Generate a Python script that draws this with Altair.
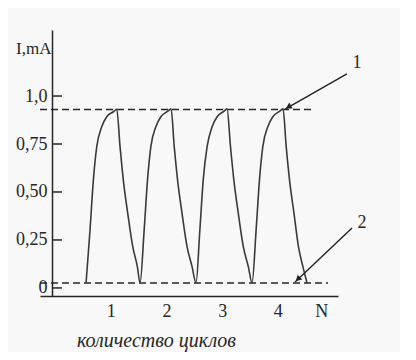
import altair as alt
import pandas as pd

# ---- data ----
cycle_x = [
    0.557, 0.628, 0.688, 0.749, 0.838, 0.928, 1.047, 1.108, 1.167, 1.226, 1.305, 1.395, 1.478,
    1.526, 1.600, 1.660, 1.720, 1.810, 1.900, 2.020, 2.083, 2.140, 2.200, 2.280, 2.370, 2.460,
    2.531, 2.600, 2.660, 2.730, 2.820, 2.910, 3.030, 3.088, 3.150, 3.210, 3.290, 3.380, 3.470,
    3.537, 3.610, 3.670, 3.730, 3.820, 3.910, 4.030, 4.093, 4.150, 4.210, 4.290, 4.370, 4.450,
    4.524,
]
cycle_y = [
    0.026, 0.302, 0.562, 0.736, 0.840, 0.892, 0.918, 0.931, 0.736, 0.562, 0.389, 0.215, 0.111,
    0.026, 0.302, 0.562, 0.736, 0.840, 0.892, 0.920, 0.933, 0.736, 0.562, 0.389, 0.215, 0.111,
    0.026, 0.302, 0.562, 0.736, 0.840, 0.892, 0.920, 0.933, 0.736, 0.562, 0.389, 0.215, 0.111,
    0.026, 0.302, 0.562, 0.736, 0.840, 0.892, 0.920, 0.933, 0.736, 0.562, 0.389, 0.215, 0.111,
    0.026,
]

level_names = ["1", "2"]
level_values = [0.930, 0.026]
level_x_start = [-0.27, -0.27]
level_x_end = [4.614, 4.90]

arrow_x_start = [5.24, 5.332]
arrow_y_start = [1.115, 0.3125]
arrow_x_end = [4.13, 4.309]
arrow_y_end = [0.932, 0.031]
arrow_head_x = [4.19, 4.36]
arrow_head_y = [0.943, 0.046]
arrow_head_angle = [240.6, 226.5]
note_x = [5.42, 5.51]
note_y = [1.17, 0.339]

y_tick_values = [0, 0.25, 0.5, 0.75, 1.0]
y_tick_labels = ["0", "0,25", "0,50", "0,75", "1,0"]
x_tick_values = [1, 2, 3, 4, 4.78]
x_tick_labels = ["1", "2", "3", "4", "N"]

y_title = "I,mA"
x_title = "количество циклов"

# ---- chart ----
FONT = "Liberation Serif"
INK = "#262626"

def label_expr(values, labels):
    expr = "''"
    for v, l in reversed(list(zip(values, labels))):
        expr = f"abs(datum.value - {v}) < 0.001 ? '{l}' : ({expr})"
    return expr

xs = alt.Scale(domain=[-0.27, 5.08], nice=False, zero=False)
ys = alt.Scale(domain=[-0.042, 1.344], nice=False, zero=False)

curve_df = pd.DataFrame({"x": cycle_x, "y": cycle_y})
level_df = pd.DataFrame({"name": level_names, "y": level_values,
                         "x1": level_x_start, "x2": level_x_end})
arrow_df = pd.DataFrame({"x": arrow_x_start, "y": arrow_y_start,
                         "x2": arrow_x_end, "y2": arrow_y_end,
                         "hx": arrow_head_x, "hy": arrow_head_y, "ang": arrow_head_angle,
                         "tx": note_x, "ty": note_y, "name": level_names})
ytick_df = pd.DataFrame({"y": y_tick_values})

x_axis = alt.Axis(values=x_tick_values, labelExpr=label_expr(x_tick_values, x_tick_labels),
                  ticks=False, grid=False, domainColor=INK, domainWidth=1.5,
                  labelFont=FONT, labelFontSize=18, labelColor=INK, labelPadding=6,
                  title=x_title, titleFont=FONT, titleFontSize=20, titleFontStyle="italic",
                  titleFontWeight="normal", titleColor=INK, titleX=116, titleY=44,
                  titleAlign="center", titleBaseline="middle")
y_axis = alt.Axis(values=y_tick_values, labelExpr=label_expr(y_tick_values, y_tick_labels),
                  ticks=False, grid=False, domainColor=INK, domainWidth=1.5, offset=-12,
                  labelFont=FONT, labelFontSize=18, labelColor=INK, labelPadding=5,
                  title=y_title, titleFont=FONT, titleFontSize=17, titleFontWeight="normal",
                  titleColor=INK, titleAngle=0, titleAlign="right", titleBaseline="middle",
                  titleX=-1, titleY=18)

curve = alt.Chart(curve_df).mark_line(color="#3a3a3a", strokeWidth=1.6, interpolate="monotone").encode(
    x=alt.X("x:Q", scale=xs, axis=x_axis),
    y=alt.Y("y:Q", scale=ys, axis=y_axis),
)

levels = alt.Chart(level_df).mark_rule(color=INK, strokeWidth=1.5, strokeDash=[7, 4]).encode(
    x=alt.X("x1:Q", scale=xs), x2="x2:Q", y=alt.Y("y:Q", scale=ys))

yticks = alt.Chart(ytick_df).mark_rule(color=INK, strokeWidth=1.5).encode(
    y=alt.Y("y:Q", scale=ys), x=alt.value(12), x2=alt.value(22))

arrows = alt.Chart(arrow_df).mark_rule(color="#222222", strokeWidth=1.4).encode(
    x=alt.X("x:Q", scale=xs), y=alt.Y("y:Q", scale=ys), x2="x2:Q", y2="y2:Q")

heads = alt.Chart(arrow_df).mark_point(shape="triangle-up", filled=True, color="#222222",
                                       size=45, opacity=1).encode(
    x=alt.X("hx:Q", scale=xs), y=alt.Y("hy:Q", scale=ys), angle=alt.Angle("ang:Q", scale=None))

notes = alt.Chart(arrow_df).mark_text(font=FONT, fontSize=18, color=INK).encode(
    x=alt.X("tx:Q", scale=xs), y=alt.Y("ty:Q", scale=ys), text="name:N")

chart = alt.layer(levels, yticks, curve, arrows, heads, notes).properties(
    width=298, height=266,
    autosize=alt.AutoSizeParams(type="none"),
    padding={"left": 32, "top": 22, "right": 62, "bottom": 56},
    background="#f8f8f8",
).configure_view(stroke=None)

chart.save("out.html", embed_options={"renderer": "svg", "actions": False})
